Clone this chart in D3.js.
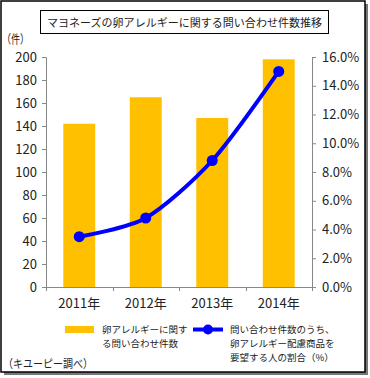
<!DOCTYPE html>
<html><head><meta charset="utf-8">
<script src="https://cdn.jsdelivr.net/npm/d3@7"></script>
<style>body{margin:0;background:#fff;}svg{display:block;}text{font-family:"Noto Sans CJK JP","Noto Sans",sans-serif;fill:#222;}</style>
</head><body><svg id="c" width="370" height="378"></svg>
<script>
const categories = ["2011年","2012年","2013年","2014年"];
const inquiries = [142, 165, 147, 198];
const ratePct = [3.5, 4.8, 8.8, 15.0];
const leftTicks = [0,20,40,60,80,100,120,140,160,180,200];
const rightTicks = [0,2,4,6,8,10,12,14,16];
const title = "マヨネーズの卵アレルギーに関する問い合わせ件数推移";
const barLegend = ["卵アレルギーに関す","る問い合わせ件数"];
const lineLegend = ["問い合わせ件数のうち、","卵アレルギー配慮商品を","要望する人の割合（%）"];
const unitLabel = "（件）";
const sourceLabel = "（キユーピー調べ）";

const svg = d3.select("#c");
// frame with shadow
svg.append("rect").attr("x",4).attr("y",4).attr("width",364).attr("height",371).attr("fill","#777");
svg.append("rect").attr("x",1).attr("y",1).attr("width",364).attr("height",371).attr("fill","#fff").attr("stroke","#000").attr("stroke-width",1.5);

// title box
svg.append("rect").attr("x",40.5).attr("y",10.5).attr("width",288).attr("height",23).attr("fill","#fff").attr("stroke","#000").attr("stroke-width",1);
svg.append("text").attr("x",184.5).attr("y",26.5).attr("text-anchor","middle").attr("font-size",11)
  .attr("textLength",275).attr("lengthAdjust","spacing").text(title);

const L = 46, R = 312, T = 57, B = 287;
const x = d3.scaleBand().domain(categories).range([L,R]).paddingInner(0.52).paddingOuter(0.26);
const yL = d3.scaleLinear().domain([0,200]).range([B,T]);
const yR = d3.scaleLinear().domain([0,16]).range([B,T]);

// bars
svg.append("g").selectAll("rect").data(categories).join("rect")
  .attr("x",d=>x(d)).attr("width",x.bandwidth())
  .attr("y",(d,i)=>yL(inquiries[i])).attr("height",(d,i)=>B-yL(inquiries[i]))
  .attr("fill","#FFC000");

// axes
const axisColor = "#888";
const gl = svg.append("g").attr("transform",`translate(${L},0)`)
  .call(d3.axisLeft(yL).tickValues(leftTicks).tickSize(4).tickPadding(5).tickFormat(d3.format("d")));
const gr = svg.append("g").attr("transform",`translate(${R},0)`)
  .call(d3.axisRight(yR).tickValues(rightTicks).tickSize(4).tickPadding(6).tickFormat(d=>d.toFixed(1)+"%"));
[gl,gr].forEach(g=>{
  g.select(".domain").attr("stroke",axisColor);
  g.selectAll(".tick line").attr("stroke",axisColor);
  g.selectAll("text").attr("font-size",13).attr("fill","#222").style("font-family","Noto Sans CJK JP");
});
// x axis
const gx = svg.append("g");
gx.append("line").attr("x1",L).attr("x2",R).attr("y1",B+0.5).attr("y2",B+0.5).attr("stroke",axisColor);
const bounds = [L, ...categories.map(c=>x(c)+x.bandwidth()+x.step()*x.paddingInner()/2)];
gx.selectAll("line.t").data(bounds).join("line").attr("class","t")
  .attr("x1",d=>Math.round(d)+0.5).attr("x2",d=>Math.round(d)+0.5).attr("y1",B).attr("y2",B+4).attr("stroke",axisColor);
gx.selectAll("text").data(categories).join("text")
  .attr("x",d=>x(d)+x.bandwidth()/2).attr("y",308).attr("text-anchor","middle").attr("font-size",13).text(d=>d);

// line
const pts = categories.map((c,i)=>[x(c)+x.bandwidth()/2, yR(ratePct[i])]);
svg.append("path").attr("d",d3.line().curve(d3.curveCardinal.tension(0.2))(pts))
  .attr("fill","none").attr("stroke","#0000FF").attr("stroke-width",4);
svg.append("g").selectAll("circle").data(pts).join("circle")
  .attr("cx",d=>d[0]).attr("cy",d=>d[1]).attr("r",5.5).attr("fill","#0000FF");

// unit + source
svg.append("text").attr("x",2).attr("y",44).attr("font-size",12)
  .attr("textLength",27).attr("lengthAdjust","spacingAndGlyphs").text(unitLabel);
svg.append("text").attr("x",3).attr("y",368).attr("font-size",11.5)
  .attr("textLength",90).attr("lengthAdjust","spacingAndGlyphs").text(sourceLabel);

// legend
svg.append("rect").attr("x",65).attr("y",326).attr("width",29).attr("height",7).attr("fill","#FFC000");
svg.append("g").selectAll("text").data(barLegend).join("text")
  .attr("x",102).attr("y",(d,i)=>333+i*14).attr("font-size",9.5).text(d=>d);
svg.append("line").attr("x1",193).attr("x2",223).attr("y1",329.5).attr("y2",329.5).attr("stroke","#0000FF").attr("stroke-width",4);
svg.append("circle").attr("cx",208).attr("cy",329.5).attr("r",5).attr("fill","#0000FF");
svg.append("g").selectAll("text").data(lineLegend).join("text")
  .attr("x",230).attr("y",(d,i)=>333+i*14).attr("font-size",9.5).text(d=>d);
</script></body></html>
